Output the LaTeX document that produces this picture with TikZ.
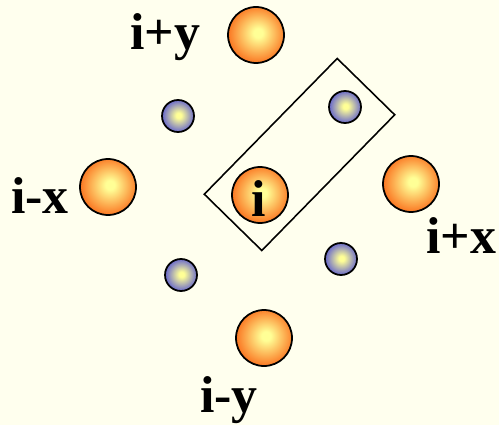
\documentclass[tikz,border=0pt]{standalone}
\usepackage{fontspec}
\setmainfont{Liberation Serif}
\usetikzlibrary{positioning}
\definecolor{paper}{RGB}{255,255,238}
\definecolor{hotorange}{RGB}{250,100,18}
\definecolor{paleyellow}{RGB}{255,255,150}
\definecolor{coolblue}{RGB}{85,85,210}
\pgfdeclareradialshading{orangeball}{\pgfpoint{2bp}{2bp}}{color(0bp)=(paleyellow); color(4bp)=(paleyellow); color(29bp)=(hotorange); color(50bp)=(hotorange)}
\pgfdeclareradialshading{blueball}{\pgfpoint{1bp}{1bp}}{color(0bp)=(paleyellow); color(4bp)=(paleyellow); color(28bp)=(coolblue); color(50bp)=(coolblue)}

\begin{document}
\begin{tikzpicture}[
    x=0.02cm, y=-0.02cm,
    bigball/.style={circle, draw=black, line width=1pt, inner sep=0pt,
        minimum size=1.12cm, shading=orangeball},
    smallball/.style={circle, draw=black, line width=1pt, inner sep=0pt,
        minimum size=0.64cm, shading=blueball},
    site/.style={font=\fontsize{29.5}{30}\selectfont\bfseries, inner sep=0pt, anchor=base}
]

% Background
\fill[paper] (0,0) rectangle (499,425);
\useasboundingbox (0,0) rectangle (499,425);

% Lattice sites
\node[bigball] (top) at (256,35) {};
\node[bigball] (left) at (108,187) {};
\node[bigball] (centre) at (260,195) {};
\node[bigball] (right) at (411,184) {};
\node[bigball] (bottom) at (264,338) {};

% Small sites
\node[smallball] (ul) at (178,116) {};
\node[smallball] (ur) at (345,107) {};
\node[smallball] (ll) at (181,275) {};
\node[smallball] (lr) at (341,259) {};

% Unit cell
\node[draw, line width=0.9pt, rotate=45.6, minimum width=3.8cm,
    minimum height=1.61cm] (cell) at (299.5,154.5) {};

% Labels
\node[site] (ilabel) at (259,216) {i};
\node[site] (iy) at (165,50) {i+y};
\node[site] (imx) at (40,214) {i-x};
\node[site] (ix) at (461,253) {i+x};
\node[site] (imy) at (229,412) {i-y};

\end{tikzpicture}
\end{document}
